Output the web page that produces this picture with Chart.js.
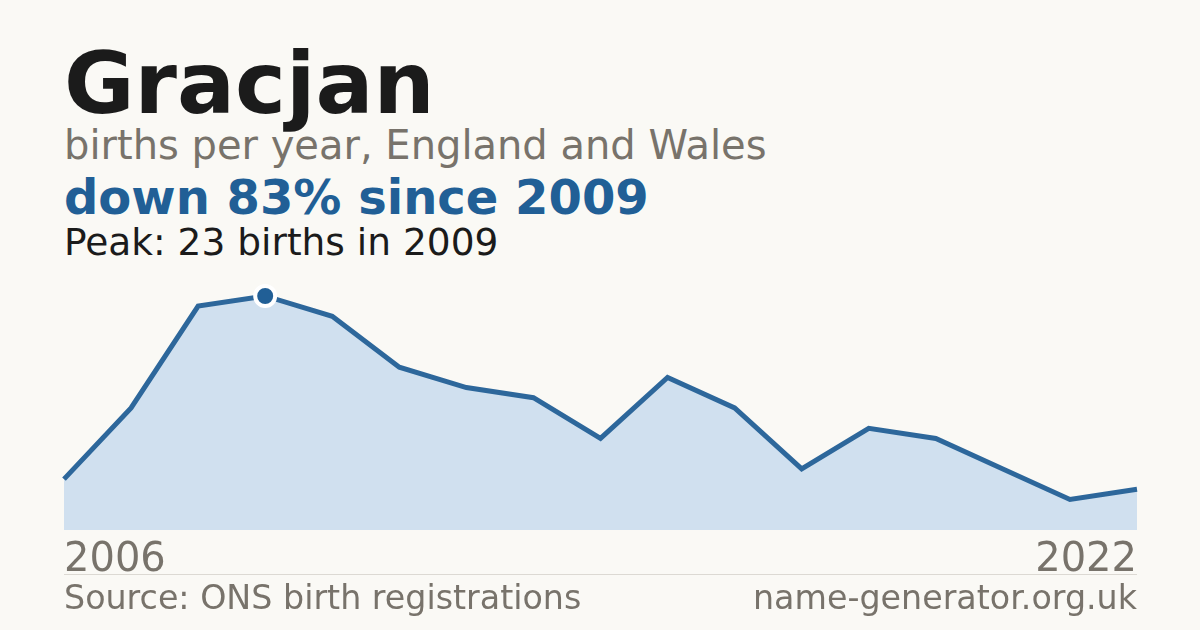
<!DOCTYPE html>
<html><head><meta charset="utf-8">
<script src="https://cdn.jsdelivr.net/npm/chart.js@4"></script>
<style>
html,body{margin:0;padding:0;background:#faf9f5;}
body{width:1200px;height:630px;position:relative;overflow:hidden;font-family:"DejaVu Sans",sans-serif;}
.t{position:absolute;left:64px;white-space:nowrap;line-height:1;}
#title{top:40px;font-size:86px;font-weight:bold;color:#1b1b1b;}
#sub{top:125px;font-size:40px;color:#78736b;}
#delta{top:173px;font-size:48px;font-weight:bold;color:#215f96;}
#peak{top:224px;font-size:37.5px;color:#1b1b1b;}
#y0{top:537px;font-size:40px;color:#78736b;}
#y1{top:537px;left:auto;right:63px;font-size:40px;color:#78736b;}
#sep{position:absolute;left:64px;width:1073px;top:574px;height:1px;background:#dcd9d3;}
#src{top:581px;font-size:33.3px;color:#78736b;}
#site{top:581px;left:auto;right:63px;font-size:33.3px;color:#78736b;}
#wrap{position:absolute;left:0;top:270px;width:1200px;height:270px;}
</style></head><body>
<div class="t" id="title">Gracjan</div>
<div class="t" id="sub">births per year, England and Wales</div>
<div class="t" id="delta">down 83% since 2009</div>
<div class="t" id="peak">Peak: 23 births in 2009</div>
<div id="wrap"><canvas id="c" width="1200" height="270"></canvas></div>
<div class="t" id="y0">2006</div>
<div class="t" id="y1">2022</div>
<div id="sep"></div>
<div class="t" id="src">Source: ONS birth registrations</div>
<div class="t" id="site">name-generator.org.uk</div>
<script>
const years = ["2006","2007","2008","2009","2010","2011","2012","2013","2014","2015","2016","2017","2018","2019","2020","2021","2022"];
const births = [5,12,22,23,21,16,14,13,9,15,12,6,10,9,6,3,4];
const peakIndex = 3;

new Chart(document.getElementById('c'), {
  type: 'line',
  data: {
    labels: years,
    datasets: [{
      data: births,
      borderColor: '#2d679b',
      borderWidth: 5,
      backgroundColor: '#d0e0ef',
      fill: 'origin',
      tension: 0,
      clip: false,
      pointRadius: births.map((v,i)=> i===peakIndex ? 10 : 0),
      pointBackgroundColor: '#215f96',
      pointBorderColor: '#ffffff',
      pointBorderWidth: 4,
      pointHoverRadius: 0
    }]
  },
  options: {
    responsive: false,
    animation: false,
    devicePixelRatio: 1,
    layout: {padding: {left: 64, right: 63, top: 10, bottom: 10}},
    plugins: {legend: {display: false}, tooltip: {enabled: false}},
    scales: {
      x: {display: false, offset: false},
      y: {display: false, min: 0, max: 24.57}
    }
  }
});
</script>
</body></html>
